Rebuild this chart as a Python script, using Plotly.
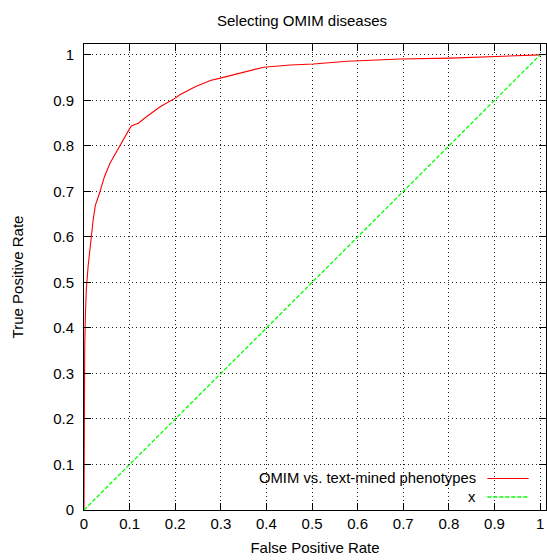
import plotly.graph_objects as go

# ROC curve
fpr = [0, 0, 0.0005, 0.0015, 0.003, 0.005, 0.009, 0.012, 0.016, 0.02, 0.025,
       0.034, 0.045, 0.057, 0.075, 0.094, 0.1, 0.104, 0.119, 0.137, 0.167,
       0.2, 0.211, 0.244, 0.277, 0.299, 0.342, 0.394, 0.452, 0.503, 0.577,
       0.694, 0.804, 0.899, 1.0]
tpr = [0, 0.1, 0.22, 0.352, 0.425, 0.484, 0.535, 0.571, 0.6, 0.637, 0.67,
       0.696, 0.733, 0.762, 0.795, 0.828, 0.838, 0.844, 0.85, 0.864, 0.886,
       0.905, 0.913, 0.93, 0.944, 0.949, 0.96, 0.973, 0.978, 0.98, 0.986,
       0.991, 0.993, 0.996, 1.0]

# diagonal reference line "x"
diag = [0, 1]

tick_vals = [0, 0.1, 0.2, 0.3, 0.4, 0.5, 0.6, 0.7, 0.8, 0.9, 1]
tick_text = ["0", "0.1", "0.2", "0.3", "0.4", "0.5", "0.6", "0.7", "0.8", "0.9", "1"]

series_names = ["OMIM vs. text-mined phenotypes", "x"]
RED = "#ff0000"
GREEN = "#00ff00"
FONT = "Liberation Sans, Arial, sans-serif"

fig = go.Figure()
fig.add_trace(go.Scatter(x=fpr, y=tpr, mode="lines", name=series_names[0],
                         line=dict(color=RED, width=1.1), showlegend=False))
fig.add_trace(go.Scatter(x=diag, y=diag, mode="lines", name=series_names[1],
                         line=dict(color=GREEN, width=1.3, dash="4px,2px"),
                         showlegend=False))

axis_common = dict(
    showline=True, linecolor="black", linewidth=1, mirror="ticks",
    ticks="inside", ticklen=7, tickwidth=1, tickcolor="black",
    showgrid=True, gridcolor="#222", gridwidth=1, griddash="1px,3px",
    zeroline=False, tickfont=dict(family=FONT, size=15, color="black"),
    tickvals=tick_vals, ticktext=tick_text,
    title_font=dict(family=FONT, size=15, color="black"),
)

fig.update_xaxes(range=[0, 1.013], title_text="False Positive Rate",
                 title_standoff=11, **axis_common)
fig.update_yaxes(range=[0, 1.024], title_text="True Positive Rate",
                 title_standoff=25, ticklabelstandoff=6, **axis_common)

# opaque key box (hides grid behind the key, as in gnuplot)
fig.add_shape(type="rect", xref="paper", yref="paper", x0=0.25, x1=1.0,
              y0=0.0, y1=0.0815, fillcolor="white", line=dict(width=0),
              layer="between")

# manual gnuplot-style key: right-aligned text, sample line on right
key_y = [0.0676, 0.0279]
key_colors = [RED, GREEN]
key_dash = ["solid", "4px,2px"]
key_width = [1.1, 1.3]
for name, ky, col, dsh, lw in zip(series_names, key_y, key_colors, key_dash, key_width):
    fig.add_annotation(xref="paper", yref="paper", x=0.8506, y=ky,
                       text=name, showarrow=False, xanchor="right",
                       yanchor="middle", borderpad=0,
                       font=dict(family=FONT, size=14.8, color="black"))
    fig.add_shape(type="line", xref="paper", yref="paper", x0=0.873,
                  x1=0.9625, y0=ky, y1=ky,
                  line=dict(color=col, width=lw, dash=dsh), layer="above")

fig.update_layout(
    width=547, height=560,
    margin=dict(l=84, r=1, t=44, b=50),
    paper_bgcolor="white", plot_bgcolor="white",
    title=dict(text="Selecting OMIM diseases", x=302 / 547, xanchor="center",
               y=1 - 20.5 / 560, yanchor="middle",
               font=dict(family=FONT, size=15, color="black")),
)

fig.write_html("out.html")
